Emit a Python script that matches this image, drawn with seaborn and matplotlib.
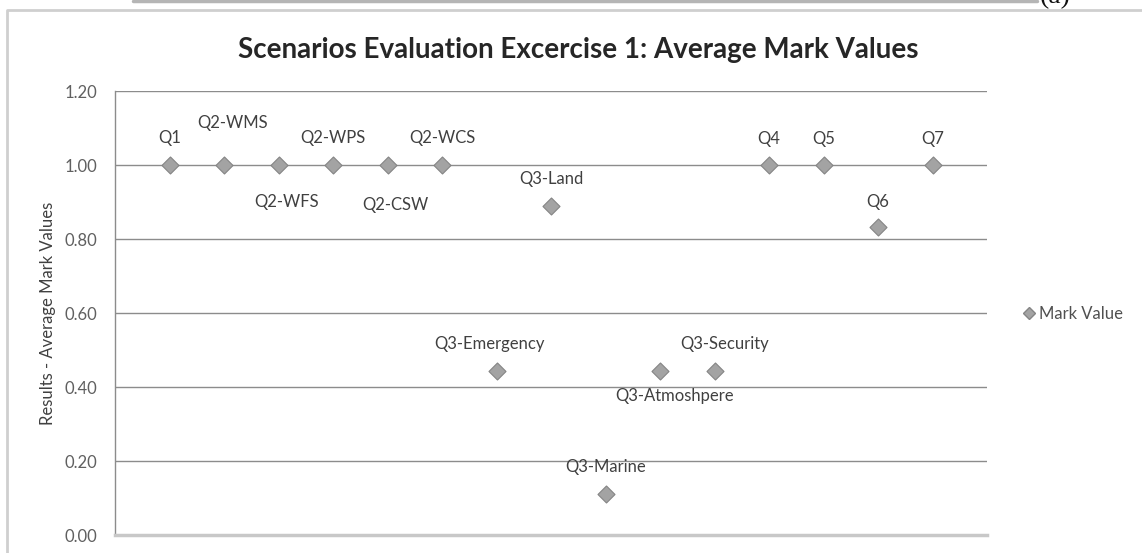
import matplotlib
matplotlib.use('Agg')
import matplotlib.pyplot as plt
import seaborn as sns
import pandas as pd
from matplotlib.lines import Line2D

# DADOS DO GRÁFICO
questoes = ['Q1', 'Q2-WMS', 'Q2-WFS', 'Q2-WPS', 'Q2-CSW', 'Q2-WCS', 'Q3-Emergency', 'Q3-Land',
            'Q3-Marine', 'Q3-Atmoshpere', 'Q3-Security', 'Q4', 'Q5', 'Q6', 'Q7']
posicao = [1, 2, 3, 4, 5, 6, 7, 8, 9, 10, 11, 12, 13, 14, 15]
notas = [1.00, 1.00, 1.00, 1.00, 1.00, 1.00, 0.444, 0.889, 0.111, 0.444, 0.444, 1.00, 1.00, 0.833, 1.00]
y_ticks = [0.0, 0.2, 0.4, 0.6, 0.8, 1.0, 1.2]

# deslocamento dos rótulos (pixels) - estilo
desloc = [(0, 27), (9, 42), (8, -37), (0, 27), (8, -40), (0, 27), (-7, 27), (0, 27),
          (0, 27), (15, -25), (10, 27), (0, 26), (0, 26), (0, 25), (0, 26)]

dados = pd.DataFrame({'Questao': questoes, 'Posicao': posicao, 'Nota': notas})

sns.set_style('white')
plt.rcParams['font.family'] = ['Lato', 'DejaVu Sans']

fig = plt.figure(figsize=(11.42, 5.53), dpi=100)
ax = fig.add_axes([115 / 1142, 18 / 553, 872 / 1142, 444 / 553])

sns.scatterplot(x='Posicao', y='Nota', data=dados, marker='D', s=75, color='#a3a3a3',
                edgecolor='#858585', linewidth=0.8, ax=ax, zorder=3, legend=False)

for q, x, y, (dx, dy) in zip(questoes, posicao, notas, desloc):
    ax.annotate(q, (x, y), xytext=(dx, dy), textcoords='offset pixels', ha='center', va='center',
                fontsize=12, color='#404040')

ax.set_xlim(0, 16)
ax.set_ylim(0, 1.2)
ax.set_yticks(y_ticks)
ax.set_yticklabels(['%.2f' % v for v in y_ticks], fontsize=12, color='#606060')
ax.set_xticks([])
ax.tick_params(axis='y', length=0, pad=13)
ax.set_xlabel('')
ax.set_ylabel('Results - Average Mark Values', fontsize=12, color='#404040', labelpad=6)
for v in y_ticks[1:]:
    ax.axhline(v, color='#8c8c8c', linewidth=1.0, zorder=1)
for lado in ['top', 'right']:
    ax.spines[lado].set_visible(False)
ax.spines['left'].set_color('#8c8c8c')
ax.spines['left'].set_linewidth(1.0)
ax.spines['bottom'].set_color('#c8c8c8')
ax.spines['bottom'].set_linewidth(2.5)

# LEGENDA
marcador = Line2D([], [], marker='D', linestyle='none', markersize=6, markerfacecolor='#a3a3a3',
                  markeredgecolor='#858585', label='Mark Value')
fig.legend(handles=[marcador], loc='center left', bbox_to_anchor=(1006 / 1142, 1 - 314 / 553),
           frameon=False, fontsize=12, handletextpad=0.1, handlelength=1.0, labelcolor='#505050')

# TÍTULO
fig.text(578 / 1142, 1 - 50 / 553, 'Scenarios Evaluation Excercise 1: Average Mark Values',
         ha='center', va='center', fontsize=20, fontweight='bold', color='#262626')

# MOLDURA E CABEÇALHO DA PÁGINA
fig.add_artist(Line2D([7 / 1142, 7 / 1142, 1.0], [0.0, 1 - 10 / 553, 1 - 10 / 553],
                      color='#cfcfcf', linewidth=2, transform=fig.transFigure))
fig.add_artist(Line2D([133 / 1142, 1037 / 1142], [1 - 1 / 553, 1 - 1 / 553],
                      color='#b5b5b5', linewidth=2.5, transform=fig.transFigure))
fig.text(1040 / 1142, 1 - 9 / 553, '(a)', ha='left', va='bottom', fontsize=20,
         family=['Liberation Serif', 'DejaVu Serif'], color='#111111')

plt.savefig('out.png', dpi=100)
